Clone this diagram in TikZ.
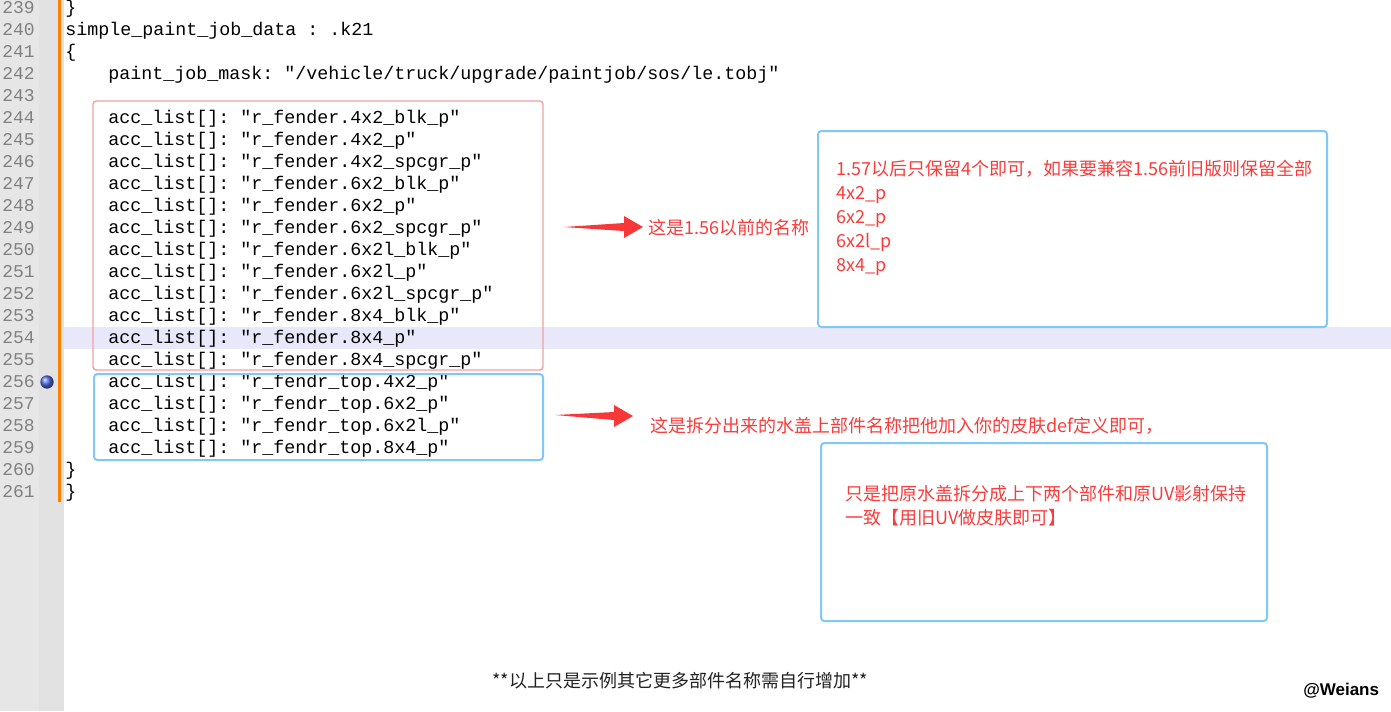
\documentclass[tikz,border=0pt]{standalone}
\usepackage{fontspec}
\usepackage{tikz}
\usetikzlibrary{calc}
\newfontfamily\codefont{Liberation Mono}
\newfontfamily\cjk{Noto Sans CJK SC}
\newfontfamily\signfont{Liberation Sans}
\frenchspacing
\definecolor{numgray}{RGB}{128,128,128}
\definecolor{guttergray}{RGB}{230,230,230}
\definecolor{stripgray}{RGB}{226,226,226}
\definecolor{foldorange}{RGB}{255,128,0}
\definecolor{curline}{RGB}{232,232,250}
\definecolor{boxred}{RGB}{245,160,160}
\definecolor{boxblue}{RGB}{128,200,250}
\definecolor{notered}{RGB}{250,60,60}
\definecolor{arrowred}{RGB}{248,56,56}
\definecolor{markblue}{RGB}{80,110,230}
\tikzset{x=0.75pt, y=-0.75pt,
  code/.style={anchor=base west, inner sep=0pt, font=\codefont\fontsize{13.75}{16}\selectfont},
  lineno/.style={anchor=base east, inner sep=0pt, text=numgray, font=\codefont\fontsize{13.5}{16}\selectfont},
  note/.style={anchor=base west, inner sep=0pt, text=notered, font=\cjk\fontsize{13.5}{18}\selectfont},
  redbox/.style={draw=boxred, line width=1.1pt, rounded corners=2.5pt},
  bluebox/.style={draw=boxblue, line width=1.5pt, rounded corners=2.5pt},
  bookmark/.style={circle, inner sep=0pt, minimum size=10pt, shade, ball color=markblue}}
% tapered red pointer: tail, tip
\newcommand\fatarrow[2]{%
  \fill[arrowred] (#1) -- ($(#2)+(-19,-4)$) -- ($(#2)+(-19,-11)$) -- (#2)
    -- ($(#2)+(-19,11)$) -- ($(#2)+(-19,4)$) -- cycle;}

\begin{document}
\begin{tikzpicture}
  \useasboundingbox (0,0) rectangle (1391,711);
  \fill[white] (0,0) rectangle (1391,711);
  % editor gutter
  \fill[guttergray] (0,0) rectangle (39,711);
  \fill[stripgray] (39,0) rectangle (64,711);
  \fill[foldorange] (58,0) rectangle (61,502);
  \fill[curline] (64,327) rectangle (1391,349);
  \foreach \n in {239,...,261}
    \node[lineno] (n\n) at (35,{13+(\n-239)*22}) {\n};
  \node[bookmark] (mark) at (47,382) {};
  % code
  \node[code] (c239) at (65,13) {\}};
  \node[code] (c240) at (65,35) {simple\_paint\_job\_data : .k21};
  \node[code] (c241) at (65,57) {\{};
  \node[code] (c242) at (108,79) {paint\_job\_mask: "/vehicle/truck/upgrade/paintjob/sos/le.tobj"};
  \foreach \s [count=\i from 244] in {4x2\_blk\_p, 4x2\_p, 4x2\_spcgr\_p, 6x2\_blk\_p, 6x2\_p,
      6x2\_spcgr\_p, 6x2l\_blk\_p, 6x2l\_p, 6x2l\_spcgr\_p, 8x4\_blk\_p, 8x4\_p, 8x4\_spcgr\_p}
    \node[code] (c\i) at (108,{13+(\i-239)*22}) {acc\_list[]: "r\_fender.\s"};
  \foreach \s [count=\i from 256] in {4x2, 6x2, 6x2l, 8x4}
    \node[code] (c\i) at (108,{13+(\i-239)*22}) {acc\_list[]: "r\_fendr\_top.\s\_p"};
  \node[code] (c260) at (65,475) {\}};
  \node[code] (c261) at (65,497) {\}};
  % marked groups
  \draw[redbox] (93,101) rectangle (543,370);
  \draw[bluebox] (94,374) rectangle (543,460);
  % notes
  \node[note] (old) at (648,234) {这是1.56以前的名称};
  \node[note] (split) at (650,432) {这是拆分出来的水盖上部件名称把他加入你的皮肤def定义即可，};
  \coordinate (tail1) at (564,227);
  \coordinate (tip1) at (643,227);
  \coordinate (tail2) at (555,415);
  \coordinate (tip2) at (633,416);
  \fatarrow{tail1}{tip1}
  \fatarrow{tail2}{tip2}
  \draw[bluebox] (818,131) rectangle (1327,327);
  \foreach \t [count=\k from 0] in {1.57以后只保留4个即可，如果要兼容1.56前旧版则保留全部,
      4x2\_p, 6x2\_p, 6x2l\_p, 8x4\_p}
    \node[note] (keep\k) at (836,{175+24*\k}) {\t};
  \draw[bluebox] (821,443) rectangle (1267,621);
  \node[note] (uv1) at (845,500) {只是把原水盖拆分成上下两个部件和原UV影射保持};
  \node[note] (uv2) at (845,524) {一致【用旧UV做皮肤即可】};
  \node[note, text={rgb,255:red,34;green,34;blue,34}] (more) at (492,687)
    {**以上只是示例其它更多部件名称需自行增加**};
  \node[anchor=base west, inner sep=0pt, font=\signfont\bfseries\fontsize{12.75}{14}\selectfont]
    (sign) at (1303,695) {@Weians};
\end{tikzpicture}
\end{document}
